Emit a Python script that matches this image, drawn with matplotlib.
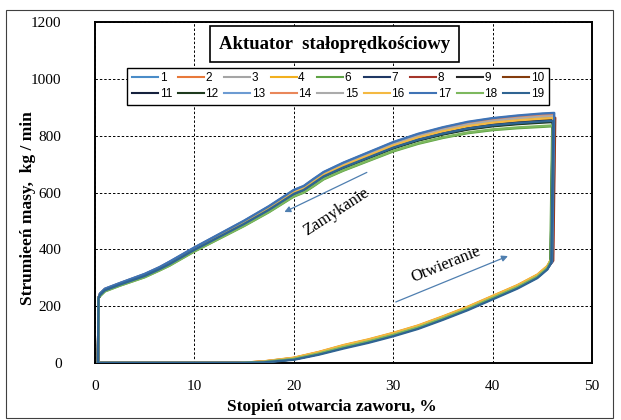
import matplotlib
matplotlib.use("Agg")
import matplotlib.pyplot as plt
import numpy as np
from matplotlib.lines import Line2D
from matplotlib.patches import Rectangle

# --- dane ---
SERIES = list(range(1, 20))
COLORS = [
    "#4A8CC8", "#E8793A", "#A5A5A5", "#F2B01E", "#4472C4", "#5FA345",
    "#1F3864", "#A5352A", "#262626", "#843C0C", "#15213D", "#1E3A1E",
    "#6C9BD2", "#E9875A", "#ABABAB", "#F4B942", "#3F73B5", "#7DB85E",
    "#2F6492",
]
HIDDEN_IN_LEGEND = {5}

# otwieranie (dolna galaz)
LOW_X = [0.3, 14.5, 17.0, 20.0, 22.5, 25.0, 27.5, 30.0, 32.5, 35.0, 37.5,
         40.0, 42.5, 44.5, 45.5, 45.9]
LOW_Y = [0, 0, 4, 15, 34, 57, 77, 100, 126, 158, 192, 230, 268, 305, 335, 360]
LOW_SPREAD = [0, 0, 0.3, 0.6, 0.8, 1, 1, 1, 1, 1, 1, 1, 1, 1, 1, 1]

# zamykanie (gorna galaz), od prawej do lewej
UP_X = [46.1, 45.0, 42.5, 40.0, 37.5, 35.0, 32.5, 30.0, 27.5, 25.0, 23.0,
        22.0, 21.0, 20.0, 17.5, 15.0, 12.5, 10.0, 7.5, 6.5, 5.0, 2.5, 1.0,
        0.5, 0.35, 0.3]
UP_Y = [858, 856, 850, 842, 830, 812, 790, 762, 727, 692, 660, 636, 612,
        598, 542, 492, 446, 400, 350, 332, 308, 277, 257, 240, 228, 0]
UP_SPREAD = [1.0, 1.0, 0.95, 0.9, 0.85, 0.8, 0.75, 0.7, 0.65, 0.6, 0.55,
             0.55, 0.5, 0.5, 0.45, 0.4, 0.35, 0.3, 0.3, 0.25, 0.25, 0.2,
             0.2, 0.2, 0.0, 0.0]

# przesuniecia poszczegolnych przebiegow
UP_OFF = [20, 14, 10, 2, -8, -25, -5, 5, 0, 3, -3, -10, 12, 16, 11, 4, 22, -22, -6]
LOW_OFF = [0, 4, 2, 6, -2, -1, -3, 0, -1, 1, -3, -2, 0, 4, 2, 5, -3, -1, -6]
DX_OFF = [0.0, 0.05, 0.0, 0.0, -0.05, -0.1, 0.1, 0.2, 0.05, 0.15, 0.0, -0.05,
          0.0, 0.05, 0.05, 0.0, 0.1, -0.05, 0.0]

plt.rcParams["font.family"] = ["Liberation Serif", "DejaVu Serif"]

fig = plt.figure(figsize=(6.21, 4.20), dpi=100)
ax = fig.add_axes([95 / 621, 57 / 420, 497 / 621, 341 / 420])

low_x = np.array(LOW_X)
low_y = np.array(LOW_Y, dtype=float)
up_x = np.array(UP_X)
up_y = np.array(UP_Y, dtype=float)

handles = []
for i, s in enumerate(SERIES):
    lx = low_x.copy()
    lx[-1] += DX_OFF[i]
    ux = up_x.copy()
    ux[0] += DX_OFF[i]
    ly = low_y + LOW_OFF[i] * np.array(LOW_SPREAD)
    uy = up_y + UP_OFF[i] * np.array(UP_SPREAD)
    x = np.concatenate([lx, ux])
    y = np.concatenate([ly, uy])
    ax.plot(x, y, color=COLORS[i], lw=1.7, solid_joinstyle="round", zorder=3)
    if s not in HIDDEN_IN_LEGEND:
        handles.append(Line2D([], [], color=COLORS[i], lw=1.5, label=str(s)))

# legenda wypelniana wierszami (matplotlib wypelnia kolumnami)
row1, row2 = handles[:9], handles[9:]
leg_handles = [h for pair in zip(row1, row2) for h in pair]

ax.set_xlim(0, 50)
ax.set_ylim(0, 1200)
ax.set_xticks(range(0, 51, 10))
ax.set_yticks(range(0, 1201, 200))
ax.tick_params(length=0, labelsize=11)
ax.tick_params(axis="y", pad=24)
ax.tick_params(axis="x", pad=12)
ax.grid(True, color="black", linestyle=(0, (2.5, 2)), lw=0.7)
for sp in ax.spines.values():
    sp.set_linewidth(1.4)

ax.set_xlabel("Stopień otwarcia zaworu, %", fontsize=12.5, fontweight="bold", labelpad=3)
ax.xaxis.set_label_coords(0.477, -0.105)
ax.set_ylabel("Strumieeń masy,  kg / min", fontsize=12.5, fontweight="bold")
ax.yaxis.set_label_coords(-0.118, 0.455)

ax.text(24.1, 1122, "Aktuator  stałoprędkościowy", ha="center", va="center",
        fontsize=13.5, fontweight="bold", zorder=6,
        bbox=dict(boxstyle="square,pad=0.5", fc="white", ec="black", lw=1.2))

leg = ax.legend(handles=leg_handles, ncol=9, loc="center", bbox_to_anchor=(0.489, 0.812),
                prop={"family": "Liberation Sans", "size": 8.5}, handlelength=2.2,
                handletextpad=0.12, columnspacing=0.5, borderpad=0.4,
                labelspacing=0.3, fancybox=False, framealpha=1, edgecolor="black")
leg.get_frame().set_linewidth(1.0)
leg.set_zorder(6)

arrow_color = "#4F7FB0"
ax.annotate("", xy=(18.8, 527), xytext=(27.6, 675),
            arrowprops=dict(arrowstyle="-|>", color=arrow_color, lw=0.9,
                            mutation_scale=9), zorder=5)
ax.text(24.3, 530, "Zamykanie", rotation=33, ha="center", va="center", fontsize=12)
ax.annotate("", xy=(41.8, 380), xytext=(30.0, 211),
            arrowprops=dict(arrowstyle="-|>", color=arrow_color, lw=0.9,
                            mutation_scale=9), zorder=5)
ax.text(35.3, 345, "Otwieranie", rotation=22, ha="center", va="center", fontsize=12)

fig.patches.append(Rectangle((6 / 621, 2 / 420), 607 / 621, 408 / 420,
                             transform=fig.transFigure, fill=False,
                             ec="#404040", lw=0.8))

fig.savefig("out.png", dpi=100)
